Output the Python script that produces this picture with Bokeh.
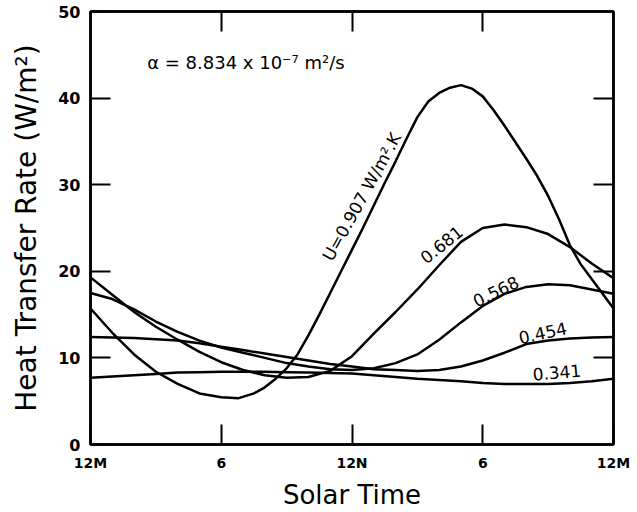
import math
from bokeh.plotting import figure
from bokeh.models import Range1d, LinearAxis, FixedTicker, ColumnDataSource
from bokeh.core.properties import value
from bokeh.embed import file_html
from bokeh.resources import INLINE

# ---- data ----
x_ticks = [0, 6, 12, 18, 24]
x_tick_labels = ["12M", "6", "12N", "6", "12M"]
y_ticks = [0, 10, 20, 30, 40, 50]

hours = list(range(25))

hours_0907 = [0, 1, 2, 3, 4, 5, 6, 6.8, 7.5, 8, 8.5, 9, 9.5, 10, 10.5, 11, 11.5, 12,
              12.5, 13, 13.5, 14, 14.5, 15, 15.5, 16, 16.5, 17, 17.5, 18, 18.5, 19,
              19.5, 20, 20.5, 21, 21.5, 22, 22.5, 23, 23.5, 24]
q_0907 = [15.7, 12.9, 10.4, 8.4, 7.0, 5.9, 5.45, 5.35, 5.9, 6.6, 7.6, 8.8, 10.4, 12.6,
          15.0, 17.5, 20.0, 22.5, 25.0, 27.6, 30.2, 32.7, 35.3, 37.8, 39.6, 40.6, 41.2,
          41.5, 41.1, 40.2, 38.6, 36.8, 34.9, 33.0, 31.0, 28.7, 26.0, 23.0, 20.8, 19.1,
          17.4, 15.7]

q_0681 = [19.3, 17.3, 15.3, 13.6, 12.1, 10.7, 9.5, 8.6, 8.0, 7.7, 7.8, 8.5, 10.2, 12.8,
          15.3, 17.9, 20.7, 23.4, 25.0, 25.4, 25.1, 24.3, 22.8, 20.9, 19.2]
q_0568 = [17.5, 16.8, 15.6, 14.2, 13.0, 12.0, 11.2, 10.6, 10.0, 9.4, 9.0, 8.7, 8.6, 8.8,
          9.4, 10.4, 12.1, 14.1, 16.0, 17.4, 18.2, 18.5, 18.4, 17.9, 17.4]
q_0454 = [12.4, 12.35, 12.3, 12.15, 12.0, 11.7, 11.3, 10.9, 10.5, 10.1, 9.7, 9.3, 9.0,
          8.7, 8.6, 8.5, 8.6, 9.0, 9.7, 10.6, 11.6, 12.0, 12.25, 12.35, 12.4]
q_0341 = [7.7, 7.85, 8.0, 8.15, 8.3, 8.35, 8.4, 8.4, 8.4, 8.35, 8.3, 8.25, 8.2, 8.0, 7.8,
          7.6, 7.45, 7.3, 7.1, 7.0, 7.0, 7.0, 7.1, 7.3, 7.6]

curve_labels = ["U=0.907 W/m\u00b2.K", "0.681", "0.568", "0.454", "0.341"]
label_x = [12.45, 16.1, 18.6, 20.75, 21.4]
label_y = [28.6, 23.1, 17.7, 12.9, 8.35]
label_angle_deg = [61, 39, 26, 12, 5]

annotation = "\u03b1 = 8.834 x 10\u207b\u2077 m\u00b2/s"

# ---- figure ----
FONT = "DejaVu Sans"
p = figure(width=637, height=512, x_range=Range1d(0, 24), y_range=Range1d(0, 50),
           output_backend="svg", toolbar_location=None,
           min_border_left=90, min_border_right=24, min_border_top=11, min_border_bottom=66)
p.background_fill_color = "white"
p.border_fill_color = "white"
p.outline_line_color = "black"
p.outline_line_width = 2.5
p.xgrid.visible = False
p.ygrid.visible = False

bottom = p.below[0]
left = p.left[0]
bottom.ticker = FixedTicker(ticks=x_ticks)
bottom.major_label_overrides = {t: l for t, l in zip(x_ticks, x_tick_labels)}
bottom.axis_label = "Solar Time"
left.ticker = FixedTicker(ticks=y_ticks)
left.axis_label = "Heat Transfer Rate (W/m\u00b2)"

top = LinearAxis(ticker=FixedTicker(ticks=x_ticks[1:-1]))
right = LinearAxis(ticker=FixedTicker(ticks=y_ticks[1:-1]))

for ax in (bottom, left, top, right):
    ax.axis_line_width = 2.5
    ax.axis_line_color = "black"
    ax.major_tick_in = 20
    ax.major_tick_out = 0
    ax.major_tick_line_width = 2
    ax.major_tick_line_color = "black"
    ax.minor_tick_line_color = None
    ax.major_label_text_font = FONT
    ax.major_label_text_font_style = "bold"
    ax.major_label_text_color = "black"
    ax.axis_label_text_font = FONT
    ax.axis_label_text_font_style = "normal"
    ax.axis_label_text_color = "black"

for ax in (top, right):
    ax.major_label_text_color = None
    ax.major_label_text_font_size = "1px"
    ax.major_label_standoff = 0
p.add_layout(top, "above")
p.add_layout(right, "right")

bottom.major_label_text_font_size = "14px"
bottom.major_label_standoff = 10
bottom.axis_label_text_font_size = "26px"
bottom.axis_label_standoff = 6
left.major_label_text_font_size = "16px"
left.major_label_standoff = 10
left.axis_label_text_font_size = "28px"
left.axis_label_standoff = 12

# ---- curves ----
p.line(hours_0907, q_0907, line_color="black", line_width=2.5)
for q in (q_0681, q_0568, q_0454, q_0341):
    p.line(hours, q, line_color="black", line_width=2.5)

src = ColumnDataSource(dict(x=label_x, y=label_y, text=curve_labels,
                            angle=[math.radians(a) for a in label_angle_deg]))
p.text(x="x", y="y", text="text", angle="angle", source=src,
       text_font=value(FONT), text_font_size="17px", text_align="center",
       text_baseline="middle", text_color="black")

p.text(x=[2.6], y=[44.1], text=[annotation], text_font=value(FONT),
       text_font_size="18px", text_align="left", text_baseline="middle",
       text_color="black")

open("out.html", "w").write(file_html(p, INLINE))
